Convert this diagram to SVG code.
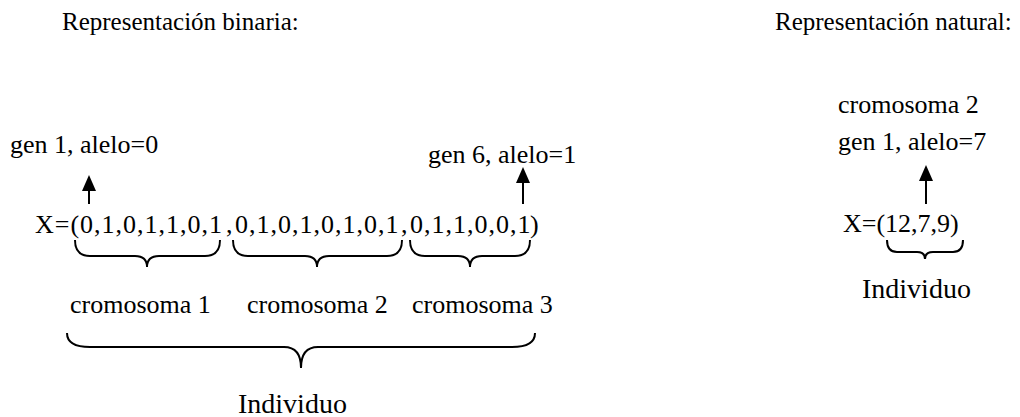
<svg xmlns="http://www.w3.org/2000/svg" width="1020" height="417" viewBox="0 0 1020 417">
<style>
text{font-family:"Liberation Serif","Times New Roman",serif;fill:#000}
.t{font-size:25px}
.m{font-size:26px}
.x{font-size:26px;letter-spacing:1px}
.ind{font-size:28px}
.br{fill:none;stroke:#000;stroke-width:2}
.ar{stroke:#000;stroke-width:2}
</style>
<defs>
<marker id="ah" markerWidth="16" markerHeight="14" refX="0" refY="7" orient="auto" markerUnits="userSpaceOnUse" viewBox="0 0 16 14">
<path d="M0,0 L16,7 L0,14 Z" fill="#000"/>
</marker>
</defs>
<g id="title-binary"><text class="t" x="62" y="30">Representación binaria:</text></g>
<g id="title-natural"><text class="t" x="775" y="30">Representación natural:</text></g>
<g id="gen1-label"><text class="m" x="10" y="153">gen 1, alelo=0</text></g>
<g id="gen6-label"><text class="m" x="428" y="163">gen 6, alelo=1</text></g>
<g id="x-binary"><text class="x" x="35" y="233">X=(<tspan x="80">0,1,0,1,1,0,1</tspan><tspan x="226">,</tspan><tspan x="235">0,1,0,1,0,1,0,1</tspan><tspan x="401">,</tspan><tspan x="410">0,1,1,0,0,1</tspan><tspan x="530">)</tspan></text></g>
<g id="crom1"><text class="m" x="70" y="313">cromosoma 1</text></g>
<g id="crom2"><text class="m" x="247" y="313">cromosoma 2</text></g>
<g id="crom3"><text class="m" x="412" y="313">cromosoma 3</text></g>
<g id="individuo-binary"><text class="ind" x="238" y="413">Individuo</text></g>
<g id="crom2-natural"><text class="m" x="838" y="113">cromosoma 2</text></g>
<g id="gen1-natural"><text class="m" x="838" y="150">gen 1, alelo=7</text></g>
<g id="x-natural"><text class="m" x="843" y="232">X=(12,7,9)</text></g>
<g id="individuo-natural"><text class="ind" x="862" y="298">Individuo</text></g>
<g id="connectors">
<line class="ar" x1="89" y1="204" x2="89" y2="191" marker-end="url(#ah)"/>
<line class="ar" x1="523" y1="204" x2="523" y2="183" marker-end="url(#ah)"/>
<line class="ar" x1="926" y1="204" x2="926" y2="181" marker-end="url(#ah)"/>
<path class="br" d="M75,240 Q75,256 90,256 L135,256 Q147,256 147,267 Q147,256 159,256 L205,256 Q220,256 220,240"/>
<path class="br" d="M233,240 Q233,256 248,256 L305,256 Q317,256 317,267 Q317,256 329,256 L387,256 Q402,256 402,240"/>
<path class="br" d="M410,240 Q410,256 425,256 L458,256 Q470,256 470,267 Q470,256 482,256 L515,256 Q530,256 530,240"/>
<path class="br" d="M67,333 Q67,347 90,347 L284,347 Q301,347 301,368 Q301,347 318,347 L512,347 Q535,347 535,333"/>
<path class="br" d="M887,240 Q887,252 897,252 L917,252 Q925,252 925,259 Q925,252 933,252 L953,252 Q963,252 963,240"/>
</g>
</svg>
